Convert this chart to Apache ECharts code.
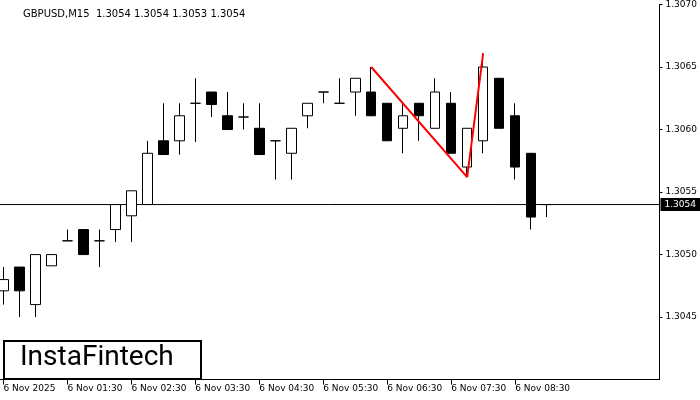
<!DOCTYPE html>
<html>
<head>
<meta charset="utf-8">
<script src="https://cdn.jsdelivr.net/npm/echarts@6/dist/echarts.min.js"></script>
<style>html,body{margin:0;padding:0;background:#fff}#chart{width:700px;height:400px}</style>
</head>
<body>
<div id="chart"></div>
<script>
// bar index -> time label, every 4 bars
const tickBars = [0, 4, 8, 12, 16, 20, 24, 28, 32];
const tickLabels = ['6 Nov 2025', '6 Nov 01:30', '6 Nov 02:30', '6 Nov 03:30', '6 Nov 04:30',
                    '6 Nov 05:30', '6 Nov 06:30', '6 Nov 07:30', '6 Nov 08:30'];
const priceTicks = [1.3045, 1.3050, 1.3055, 1.3060, 1.3065, 1.3070];

const opens  = [1.30471,1.30490,1.30460,1.30491,1.30511,1.30520,1.30511,1.30520,1.30531,1.30540,1.30591,1.30591,1.30621,1.30630,1.30611,1.30610,1.30601,1.30591,1.30581,1.30611,1.30630,1.30621,1.30630,1.30630,1.30621,1.30601,1.30621,1.30601,1.30621,1.30570,1.30591,1.30641,1.30611,1.30581,1.30540];
const closes = [1.30480,1.30471,1.30500,1.30500,1.30511,1.30500,1.30511,1.30540,1.30551,1.30581,1.30580,1.30611,1.30621,1.30620,1.30600,1.30610,1.30580,1.30591,1.30601,1.30621,1.30630,1.30621,1.30641,1.30611,1.30591,1.30611,1.30611,1.30630,1.30581,1.30601,1.30650,1.30601,1.30570,1.30530,1.30540];
const lows   = [1.30460,1.30450,1.30450,1.30491,1.30511,1.30500,1.30490,1.30510,1.30510,1.30540,1.30580,1.30580,1.30590,1.30610,1.30600,1.30600,1.30580,1.30560,1.30560,1.30601,1.30621,1.30621,1.30611,1.30611,1.30591,1.30581,1.30591,1.30601,1.30581,1.30562,1.30581,1.30601,1.30560,1.30520,1.30530];
const highs  = [1.30490,1.30490,1.30500,1.30500,1.30520,1.30520,1.30520,1.30540,1.30551,1.30591,1.30621,1.30621,1.30641,1.30630,1.30630,1.30621,1.30621,1.30591,1.30601,1.30621,1.30630,1.30641,1.30641,1.30650,1.30621,1.30621,1.30621,1.30641,1.30630,1.30601,1.30661,1.30641,1.30621,1.30581,1.30540];

// double top pattern line: bar index, price
const patternX = [23, 29, 30];
const patternY = [1.30650, 1.30562, 1.30661];

const lastPrice = 1.3054;
const xMin = -0.22, xMax = 41.03;

const candles = opens.map((o, i) => [i, o, closes[i], lows[i], highs[i]]);
const pattern = patternX.map((x, i) => [x, patternY[i]]);

const chart = echarts.init(document.getElementById('chart'));
chart.setOption({
  animation: false,
  textStyle: { fontFamily: 'DejaVu Sans' },
  title: {
    text: 'GBPUSD,M15  1.3054 1.3054 1.3053 1.3054',
    left: 18, top: 4,
    textStyle: { fontSize: 10, fontWeight: 'normal', color: '#000' }
  },
  grid: { left: 0, right: 40, top: 4, bottom: 20.4 },
  xAxis: {
    type: 'value',
    min: xMin,
    max: xMax,
    splitLine: { show: false },
    axisLine: { show: true, onZero: false, lineStyle: { color: '#000' } },
    axisTick: { show: true, customValues: tickBars, lineStyle: { color: '#000' } },
    axisLabel: {
      customValues: tickBars,
      fontSize: 9, color: '#000', align: 'left', margin: 5,
      formatter: v => tickLabels[tickBars.indexOf(Math.round(v))] || ''
    }
  },
  yAxis: {
    type: 'value',
    position: 'right',
    min: 1.3040,
    max: 1.3070,
    splitLine: { show: false },
    axisLine: { show: true, onZero: false, lineStyle: { color: '#000' } },
    axisTick: { show: true, length: 3, customValues: priceTicks, lineStyle: { color: '#000' } },
    axisLabel: {
      customValues: priceTicks,
      fontSize: 9, color: '#000', margin: 6,
      formatter: v => v.toFixed(4)
    }
  },
  series: [
    {
      type: 'line',
      data: [[xMin, lastPrice], [xMax, lastPrice]],
      symbol: 'none',
      silent: true,
      clip: false,
      lineStyle: { color: '#000', width: 1 },
      endLabel: {
        show: true, distance: 1,
        backgroundColor: '#000', color: '#fff', fontSize: 9,
        padding: [2, 4], formatter: () => lastPrice.toFixed(4)
      },
      z: 1
    },
    {
      type: 'candlestick',
      data: candles,
      encode: { x: 0, y: [1, 2, 3, 4] },
      barWidth: 10,
      itemStyle: { color: '#fff', color0: '#000', borderColor: '#000', borderColor0: '#000', borderWidth: 1 },
      z: 3
    },
    {
      type: 'line',
      data: pattern,
      symbol: 'none',
      lineStyle: { color: '#ff0000', width: 2 },
      z: 5
    }
  ],
  graphic: [
    { type: 'rect', left: 3, top: 340, shape: { width: 197, height: 38 },
      style: { fill: '#fff', stroke: '#000', lineWidth: 2 }, z: 10 },
    { type: 'text', left: 20, top: 344,
      style: { text: 'InstaFintech', fontSize: 28, fontFamily: 'Roboto', fill: '#000' }, z: 11 }
  ]
});
</script>
</body>
</html>
